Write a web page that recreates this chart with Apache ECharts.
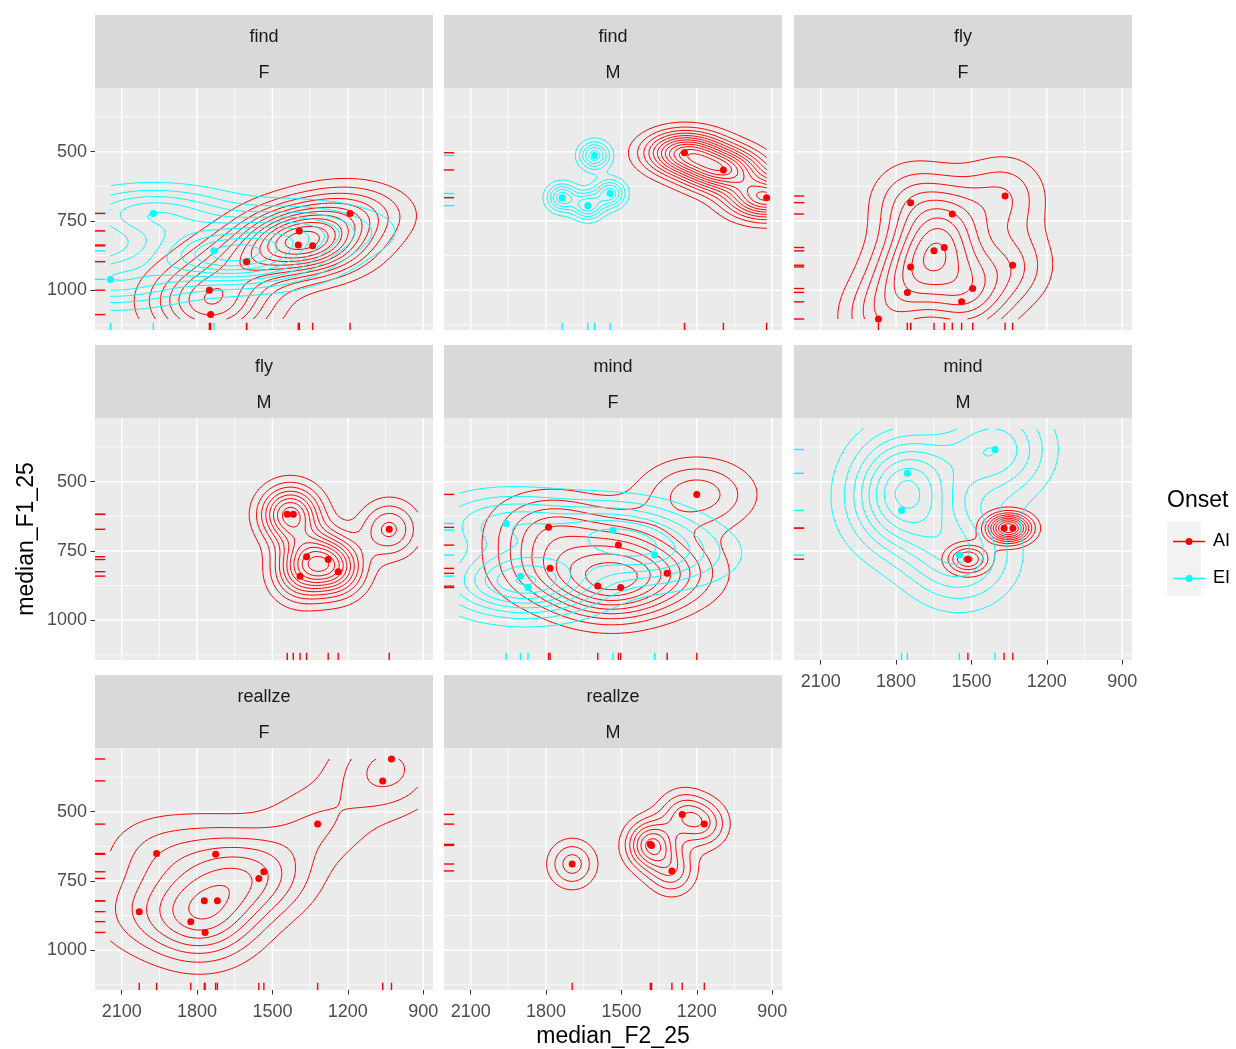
<!DOCTYPE html>
<html><head><meta charset="utf-8">
<script src="https://cdn.jsdelivr.net/npm/echarts@6/dist/echarts.min.js"></script>
<style>html,body{margin:0;padding:0;background:#fff}#c{width:1236px;height:1049px}</style>
</head><body><div id="c"></div>
<script>
// ---------- DATA ----------
const panelWords   = ['find','find','fly','fly','mind','mind','reallze','reallze'];
const panelGenders = ['F','M','F','M','F','M','F','M'];
const onsets = ['AI','EI'];
const onsetColors = {AI:'#FF0000', EI:'#00FFFF'};
const xTitle = 'median_F2_25';
const yTitle = 'median_F1_25';

// points: [median_F2_25, median_F1_25]
const findF_AI = [[1191,723],[1393,786],[1397,837],[1340,840],[1603,897],[1751,1000],[1746,1088]];
const findF_EI = [[2145,961],[1974,723],[1733,858],[1600,897],[1393,786]];
const findM_AI = [[1249,504],[1094,566],[922,666]];
const findM_EI = [[1607,514],[1736,666],[1634,695],[1545,651]];
const flyF_AI  = [[1742,684],[1366,660],[1576,725],[1649,858],[1608,846],[1742,916],[1336,910],[1755,1008],[1495,994],[1539,1042],[1870,1104]];
const flyM_AI  = [[1441,618],[1417,618],[1035,672],[1364,771],[1278,781],[1390,841],[1238,825]];
const mindF_AI = [[1200,546],[1790,665],[1512,729],[1784,813],[1318,831],[1594,877],[1503,882]];
const mindF_EI = [[1959,651],[1534,675],[1368,765],[1902,841],[1872,882]];
const mindM_AI = [[1514,780],[1370,668],[1335,668]];
const mindM_EI = [[1755,470],[1778,604],[1406,384],[1548,765]];
const reallzeF_AI = [[1026,310],[1061,389],[1320,545],[1961,651],[1726,654],[1534,717],[1554,741],[1771,822],[1719,822],[2030,861],[1825,897],[1768,936]];
const reallzeM_AI = [[1696,689],[1385,618],[1380,622],[1299,714],[1258,510],[1170,545]];

const panelPoints = [
  {AI:findF_AI, EI:findF_EI},
  {AI:findM_AI, EI:findM_EI},
  {AI:flyF_AI},
  {AI:flyM_AI},
  {AI:mindF_AI, EI:mindF_EI},
  {AI:mindM_AI, EI:mindM_EI},
  {AI:reallzeF_AI},
  {AI:reallzeM_AI}
];

const xTickValues  = [900,1200,1500,1800,2100];
const xMinorValues = [1050,1350,1650,1950];
const yTickValues  = [500,750,1000];
const yMinorValues = [375,625,875,1125];

// ---------- LAYOUT ----------
const FONT = "'Liberation Sans', Arial, sans-serif";
const colLeft = [95, 444, 794];
const rowTop = [88, 418, 748];
const panelW = 338, panelH = 242, stripH = 73;

// ---------- STATS (ggplot2 stat_density_2d equivalent) ----------
const allX = [], allY = [];
panelPoints.forEach(p => onsets.forEach(o => (p[o]||[]).forEach(q => { allX.push(q[0]); allY.push(q[1]); })));
const xLo = Math.min(...allX), xHi = Math.max(...allX);
const yLo = Math.min(...allY), yHi = Math.max(...allY);
const xMin = xLo - 0.05*(xHi-xLo), xMax = xHi + 0.05*(xHi-xLo);
const yMin = yLo - 0.05*(yHi-yLo), yMax = yHi + 0.05*(yHi-yLo);

function q7(arr, p){ const s=[...arr].sort((a,b)=>a-b); const h=(s.length-1)*p; const lo=Math.floor(h); const hi=Math.min(lo+1,s.length-1); return s[lo]+(h-lo)*(s[hi]-s[lo]); }
function sdev(arr){ const m=arr.reduce((a,b)=>a+b,0)/arr.length; return Math.sqrt(arr.reduce((a,b)=>a+(b-m)*(b-m),0)/(arr.length-1)); }
function bwNrd(arr){ const r=(q7(arr,.75)-q7(arr,.25))/1.34; return 4*1.06*Math.min(sdev(arr), r)*Math.pow(arr.length,-0.2); }
function kde2d(xs, ys, hx, hy, n){
  const gx=[], gy=[];
  for (let k=0;k<n;k++){ gx.push(xLo+(xHi-xLo)*k/(n-1)); gy.push(yLo+(yHi-yLo)*k/(n-1)); }
  hx/=4; hy/=4;
  const dn = t => Math.exp(-0.5*t*t)/Math.sqrt(2*Math.PI);
  const np = xs.length;
  const ax = gx.map(g => xs.map(x => dn((g-x)/hx)));
  const ay = gy.map(g => ys.map(y => dn((g-y)/hy)));
  const z = [];
  for (let i=0;i<n;i++){ const row=[]; for (let j=0;j<n;j++){ let s=0; for (let p=0;p<np;p++) s+=ax[i][p]*ay[j][p]; row.push(s/(np*hx*hy)); } z.push(row); }
  return {gx, gy, z};
}
function rPretty(lo, up, ndiv){
  const h=1.5, h5=0.5+1.5*h;
  let cell = (up-lo)/ndiv;
  const base = Math.pow(10, Math.floor(Math.log10(cell)));
  let unit = base, ns;
  if ((ns=2*base)-cell < h*(cell-unit)) { unit=ns;
    if ((ns=5*base)-cell < h5*(cell-unit)) { unit=ns;
      if ((ns=10*base)-cell < h*(cell-unit)) unit=ns; } }
  const eps=1e-10;
  let a=Math.floor(lo/unit+eps), b=Math.ceil(up/unit-eps);
  while (a*unit > lo+eps*unit) a--;
  while (b*unit < up-eps*unit) b++;
  const out=[]; for (let k=a;k<=b;k++) out.push(k*unit);
  return out;
}
function contourLines(gx, gy, z, L){
  const n=gx.length, m=gy.length;
  const nb=new Map(), pos=new Map();
  const hk=(i,j)=>j*n+i, vk=(i,j)=>n*m+j*n+i;
  const pt=(key,i1,j1,i2,j2)=>{ if(!pos.has(key)){ const z1=z[i1][j1], z2=z[i2][j2]; const t=(L-z1)/(z2-z1); pos.set(key,[gx[i1]+t*(gx[i2]-gx[i1]), gy[j1]+t*(gy[j2]-gy[j1])]); } };
  const link=(a,b)=>{ if(!nb.has(a)) nb.set(a,[]); if(!nb.has(b)) nb.set(b,[]); nb.get(a).push(b); nb.get(b).push(a); };
  for (let i=0;i<n-1;i++) for (let j=0;j<m-1;j++){
    const a=z[i][j]>L, b=z[i+1][j]>L, c=z[i+1][j+1]>L, d=z[i][j+1]>L;
    const k0=hk(i,j), k1=vk(i+1,j), k2=hk(i,j+1), k3=vk(i,j);
    const c0=a!==b, c1=b!==c, c2=d!==c, c3=a!==d;
    const ks=[];
    if(c0){pt(k0,i,j,i+1,j); ks.push(k0);}
    if(c1){pt(k1,i+1,j,i+1,j+1); ks.push(k1);}
    if(c2){pt(k2,i,j+1,i+1,j+1); ks.push(k2);}
    if(c3){pt(k3,i,j,i,j+1); ks.push(k3);}
    if(ks.length===2) link(ks[0],ks[1]);
    else if(ks.length===4){
      const cen=(z[i][j]+z[i+1][j]+z[i+1][j+1]+z[i][j+1])/4>L;
      if(a===cen){ link(k0,k1); link(k2,k3); } else { link(k3,k0); link(k1,k2); }
    }
  }
  const visited=new Set(), lines=[];
  const walk=(start)=>{ const out=[pos.get(start)]; visited.add(start); let cur=start;
    for(;;){ let nx; for(const q of nb.get(cur)) if(!visited.has(q)){nx=q;break;} if(nx===undefined) break; out.push(pos.get(nx)); visited.add(nx); cur=nx; }
    return out; };
  for (const [k,ns] of nb) if(ns.length===1 && !visited.has(k)) lines.push(walk(k));
  for (const [k] of nb) if(!visited.has(k)){ const o=walk(k); o.push(pos.get(k)); lines.push(o); }
  return lines;
}
function densityContours(pts){
  const xs=pts.map(p=>p[0]), ys=pts.map(p=>p[1]);
  const d=kde2d(xs, ys, bwNrd(xs), bwNrd(ys), 100);
  let zmin=Infinity, zmax=-Infinity;
  d.z.forEach(r=>r.forEach(v=>{ if(v<zmin) zmin=v; if(v>zmax) zmax=v; }));
  const levels=rPretty(zmin, zmax, 10).filter(L=>L>zmin && L<zmax);
  let lines=[];
  levels.forEach(L=>{ lines=lines.concat(contourLines(d.gx, d.gy, d.z, L)); });
  return lines;
}

// ---------- CHART ----------
const grids=[], xAxes=[], yAxes=[], series=[], graphics=[];
const gridSpec=[];
xTickValues.forEach(v=>gridSpec.push([v,'x',1])); xMinorValues.forEach(v=>gridSpec.push([v,'x',0]));
yTickValues.forEach(v=>gridSpec.push([v,'y',1])); yMinorValues.forEach(v=>gridSpec.push([v,'y',0]));
const plain = v => String(v);
// draw order: EI first, AI on top (AI rows drawn later)
const zOffset = {EI:0, AI:0.5};

panelWords.forEach((w, i) => {
  const col=i%3, row=Math.floor(i/3);
  const left=colLeft[col], top=rowTop[row];
  grids.push({left:left, top:top, width:panelW, height:panelH, show:true, backgroundColor:'#EBEBEB', borderWidth:0, containLabel:false});
  const showX = (row===2) || (i===5);
  const showY = (col===0);
  xAxes.push({gridIndex:i, type:'value', inverse:true, min:xMin, max:xMax,
    axisLine:{show:false}, splitLine:{show:false},
    axisTick:{show:showX, customValues:xTickValues, length:4.5, lineStyle:{color:'#333333', width:1}},
    axisLabel:{show:showX, customValues:xTickValues, formatter:plain, color:'#4D4D4D', fontSize:18, margin:13, fontFamily:FONT}});
  yAxes.push({gridIndex:i, type:'value', inverse:true, min:yMin, max:yMax,
    axisLine:{show:false}, splitLine:{show:false},
    axisTick:{show:showY, customValues:yTickValues, length:4.5, lineStyle:{color:'#333333', width:1}},
    axisLabel:{show:showY, customValues:yTickValues, formatter:plain, color:'#4D4D4D', fontSize:18, margin:8, fontFamily:FONT},
    name: i===3 ? yTitle : '', nameLocation:'middle', nameGap:57, nameRotate:90,
    nameTextStyle:{fontSize:23, color:'#000', fontFamily:FONT}});

  // panel grid lines
  series.push({type:'custom', xAxisIndex:i, yAxisIndex:i, z:1, silent:true,
    data: gridSpec.map(g => g[1]==='x' ? [g[0], (yMin+yMax)/2, g[2], 0] : [(xMin+xMax)/2, g[0], g[2], 1]),
    renderItem:(params, api)=>{
      const cs=params.coordSys; const major=api.value(2)===1; const isY=api.value(3)===1;
      const p=api.coord([api.value(0), api.value(1)]);
      const shape = isY ? {x1:cs.x, y1:p[1], x2:cs.x+cs.width, y2:p[1]} : {x1:p[0], y1:cs.y, x2:p[0], y2:cs.y+cs.height};
      return {type:'line', shape, style:{stroke:'#FFFFFF', lineWidth: major?1.5:0.75}};
    }});

  // strips
  const sTop = top - stripH;
  graphics.push({type:'rect', shape:{x:left, y:sTop, width:panelW, height:stripH}, style:{fill:'#D9D9D9'}, silent:true, z:0});
  graphics.push({type:'text', x:left+panelW/2, y:sTop+stripH*0.25+3.5, style:{text:w, fill:'#1A1A1A', font:'18px '+FONT, textAlign:'center', textVerticalAlign:'middle'}, z:1});
  graphics.push({type:'text', x:left+panelW/2, y:sTop+stripH*0.75+3.5, style:{text:panelGenders[i], fill:'#1A1A1A', font:'18px '+FONT, textAlign:'center', textVerticalAlign:'middle'}, z:1});

  onsets.forEach(o => {
    const pts = panelPoints[i][o];
    if (!pts) return;
    const color = onsetColors[o];
    const lines = densityContours(pts);
    series.push({type:'custom', xAxisIndex:i, yAxisIndex:i, z:2 + (o==='EI'?0.5:0), silent:true,
      data: lines.map((l,k)=>[l[0][0], l[0][1], k]),
      renderItem:(params, api)=>{
        const l = lines[params.dataIndex];
        return {type:'polyline', shape:{points:l.map(p=>api.coord(p))}, style:{stroke:color, lineWidth:1, fill:'none'}};
      }});
    series.push({type:'custom', xAxisIndex:i, yAxisIndex:i, z:3 + zOffset[o], silent:true,
      data: pts,
      renderItem:(params, api)=>{
        const cs=params.coordSys; const p=api.coord([api.value(0), api.value(1)]);
        return {type:'group', children:[
          {type:'line', shape:{x1:p[0], y1:cs.y+cs.height, x2:p[0], y2:cs.y+cs.height-0.03*cs.height}, style:{stroke:color, lineWidth:1.4}},
          {type:'line', shape:{x1:cs.x, y1:p[1], x2:cs.x+0.03*cs.width, y2:p[1]}, style:{stroke:color, lineWidth:1.4}}
        ]};
      }});
    series.push({type:'scatter', name:o, xAxisIndex:i, yAxisIndex:i, z:4 + zOffset[o], data:pts,
      symbol:'circle', symbolSize:7, itemStyle:{color:color, opacity:1}, silent:true});
  });
});

// x axis title, centred under the panel area
graphics.push({type:'text', x:colLeft[1]+panelW/2, y:1037, style:{text:xTitle, fill:'#000', font:'23px '+FONT, textAlign:'center', textVerticalAlign:'middle'}, z:1});

// legend key backgrounds
graphics.push({type:'rect', shape:{x:1167, y:521.5, width:34, height:37}, style:{fill:'#F2F2F2'}, z:0});
graphics.push({type:'rect', shape:{x:1167, y:558.5, width:34, height:37}, style:{fill:'#F2F2F2'}, z:0});

const legendIcon = 'path://M0,15.3L32,15.3L32,16.7L0,16.7Z M12.5,16A3.5,3.5 0 1,1 19.5,16A3.5,3.5 0 1,1 12.5,16Z';

const chart = echarts.init(document.getElementById('c'), null, {renderer:'canvas'});
chart.setOption({
  animation:false,
  backgroundColor:'#FFFFFF',
  textStyle:{fontFamily:FONT},
  title:{text:'Onset', left:1162, top:484, textStyle:{fontSize:23, fontWeight:'normal', color:'#000', fontFamily:FONT}},
  legend:{orient:'vertical', left:1168, top:527.5, itemWidth:32, itemHeight:8, itemGap:19,
    data:[{name:'AI', icon:legendIcon},{name:'EI', icon:legendIcon}],
    textStyle:{fontSize:18, color:'#000', fontFamily:FONT, padding:[0,0,0,3]}, selectedMode:false},
  grid:grids, xAxis:xAxes, yAxis:yAxes, series:series, graphic:graphics
});
</script></body></html>
